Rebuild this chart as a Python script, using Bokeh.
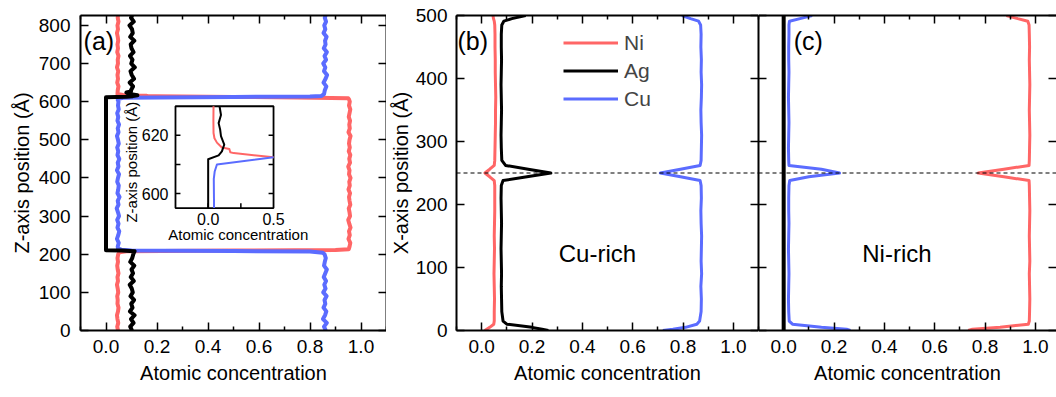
import math
from bokeh.plotting import figure
from bokeh.layouts import row
from bokeh.models import (Range1d, LinearAxis, FixedTicker, NumeralTickFormatter,
                          Span, Legend, LegendItem)
from bokeh.core.properties import value
from bokeh.embed import file_html
from bokeh.resources import INLINE

FONT = "Liberation Sans"
RED = "#FF6666"
BLUE = "#5B6CFF"
BLACK = "#000000"

# ---------------- (a) Z-axis profile through the whole cell ----------------
ni_a_z = (list(range(0, 201, 10)) + [205, 208, 209.5, 211, 213] + list(range(220, 601, 10))
          + [606, 609, 611, 612.5, 614, 614.3, 615.3, 615.8, 617.5, 620]
          + list(range(630, 821, 10)) + [826])
ni_a = ([0.047, 0.044, 0.048, 0.045, 0.043, 0.047, 0.049, 0.045, 0.046, 0.044, 0.048,
         0.046, 0.043, 0.047, 0.045, 0.049, 0.046, 0.044, 0.047, 0.045, 0.048]
        + [0.052, 0.08, 0.5, 0.9, 0.952]
        + [0.955, 0.958, 0.951, 0.956, 0.953, 0.959, 0.954, 0.950, 0.957, 0.955, 0.952,
           0.958, 0.955, 0.953, 0.957, 0.951, 0.956, 0.954, 0.959, 0.953, 0.955, 0.950,
           0.957, 0.954, 0.958, 0.952, 0.956, 0.953, 0.955, 0.959, 0.951, 0.956, 0.954,
           0.957, 0.952, 0.955, 0.958, 0.953, 0.956]
        + [0.953, 0.95, 0.75, 0.5, 0.195, 0.165, 0.16, 0.105, 0.067, 0.045]
        + [0.046, 0.049, 0.044, 0.047, 0.045, 0.048, 0.043, 0.047, 0.046, 0.049, 0.044,
           0.047, 0.045, 0.048, 0.046, 0.043, 0.047, 0.045, 0.049, 0.046, 0.047])

ag_a_z = (list(range(0, 201, 10))
          + [205, 208, 210, 210.5, 300, 400, 500, 611.8, 613.1, 614.5, 616.8, 619.7, 621.9, 624.2, 627]
          + list(range(630, 821, 10)) + [826])
ag_a = ([0.102, 0.095, 0.108, 0.098, 0.112, 0.094, 0.104, 0.099, 0.110, 0.096, 0.105,
         0.101, 0.093, 0.109, 0.097, 0.106, 0.100, 0.111, 0.095, 0.103, 0.107]
        + [0.11, 0.112, 0.06, 0.0, 0.0, 0.0, 0.0, 0.0, 0.08, 0.105, 0.123, 0.098, 0.092, 0.08, 0.098]
        + [0.098, 0.106, 0.093, 0.110, 0.101, 0.096, 0.113, 0.099, 0.104, 0.094, 0.108,
           0.100, 0.097, 0.111, 0.095, 0.105, 0.102, 0.092, 0.109, 0.098, 0.103])

cu_a_z = (list(range(0, 201, 10)) + [204, 207, 208.5, 210, 212, 215] + list(range(220, 601, 10))
          + [605, 607.6, 610, 612.5, 613.3, 615, 620]
          + list(range(630, 821, 10)) + [826])
cu_a = ([0.862, 0.855, 0.866, 0.851, 0.859, 0.864, 0.853, 0.860, 0.857, 0.865, 0.852,
         0.861, 0.856, 0.863, 0.854, 0.860, 0.866, 0.855, 0.858, 0.862, 0.857]
        + [0.85, 0.8, 0.5, 0.1, 0.06, 0.047]
        + [0.046, 0.050, 0.043, 0.048, 0.052, 0.045, 0.049, 0.044, 0.051, 0.047, 0.042,
           0.049, 0.046, 0.053, 0.045, 0.048, 0.050, 0.044, 0.047, 0.051, 0.043, 0.049,
           0.046, 0.052, 0.045, 0.048, 0.044, 0.050, 0.047, 0.043, 0.049, 0.046, 0.051,
           0.045, 0.048, 0.044, 0.050, 0.047, 0.049]
        + [0.046, 0.05, 0.067, 0.5, 0.8, 0.845, 0.855]
        + [0.858, 0.864, 0.853, 0.861, 0.867, 0.855, 0.860, 0.852, 0.863, 0.857, 0.866,
           0.854, 0.861, 0.859, 0.865, 0.853, 0.860, 0.856, 0.863, 0.858, 0.861])

# inset: close-up of the upper interface
ni_in_z = [630, 625, 620.8, 619, 617.5, 615.8, 615.3, 614.2, 613.9, 612.5]
ni_in = [0.041, 0.040, 0.041, 0.048, 0.067, 0.105, 0.162, 0.169, 0.195, 0.5]
ag_in_z = [595, 611.8, 613.1, 614.5, 616.8, 619.7, 621.9, 624.2, 627, 630]
ag_in = [0.0, 0.0, 0.08, 0.105, 0.123, 0.098, 0.092, 0.08, 0.098, 0.087]
cu_in_z = [595, 600, 605, 607.6, 610, 612.5]
cu_in = [0.045, 0.044, 0.043, 0.05, 0.067, 0.5]

# ---------------- (b) Cu-rich and (c) Ni-rich X-axis profiles ----------------
z_bc = [0, 2, 5, 10, 15, 30, 50, 70, 90, 110, 130, 150, 170, 190, 210, 230,
        238, 244, 250, 256, 262, 270, 290, 310, 330, 350, 370, 390, 410, 430, 450, 470,
        485, 491, 495, 500]
ni_b = [0.012, 0.02, 0.032, 0.048, 0.05,
        0.05, 0.051, 0.05, 0.049, 0.05, 0.051, 0.05, 0.051, 0.052, 0.052, 0.052,
        0.05, 0.032, 0.013, 0.032, 0.05,
        0.052, 0.053, 0.054, 0.055, 0.055, 0.056, 0.055, 0.054, 0.054, 0.053, 0.053,
        0.052, 0.05, 0.047, 0.045]
ag_b = [0.265, 0.24, 0.2, 0.1, 0.085,
        0.08, 0.079, 0.078, 0.079, 0.078, 0.077, 0.078, 0.079, 0.078, 0.077, 0.078,
        0.085, 0.18, 0.275, 0.185, 0.095,
        0.08, 0.078, 0.077, 0.078, 0.079, 0.078, 0.077, 0.078, 0.079, 0.078, 0.078,
        0.08, 0.088, 0.12, 0.175]
cu_b = [0.72, 0.76, 0.81, 0.855, 0.866,
        0.872, 0.873, 0.871, 0.874, 0.872, 0.873, 0.874, 0.872, 0.871, 0.873, 0.872,
        0.868, 0.79, 0.71, 0.79, 0.868,
        0.872, 0.873, 0.874, 0.872, 0.871, 0.873, 0.874, 0.872, 0.873, 0.871, 0.872,
        0.87, 0.862, 0.83, 0.796]
ni_c = [0.733, 0.75, 0.86, 0.972, 0.976,
        0.977, 0.978, 0.977, 0.976, 0.978, 0.977, 0.976, 0.977, 0.978, 0.977, 0.976,
        0.975, 0.875, 0.773, 0.875, 0.975,
        0.976, 0.977, 0.978, 0.977, 0.976, 0.977, 0.978, 0.977, 0.976, 0.977, 0.976,
        0.975, 0.97, 0.93, 0.885]
cu_c = [0.265, 0.25, 0.15, 0.035, 0.022,
        0.02, 0.019, 0.02, 0.021, 0.02, 0.019, 0.02, 0.021, 0.02, 0.02, 0.021,
        0.024, 0.1, 0.222, 0.15, 0.021,
        0.02, 0.019, 0.02, 0.021, 0.02, 0.019, 0.02, 0.021, 0.02, 0.02, 0.021,
        0.021, 0.023, 0.065, 0.113]
ag_c_z = [0, 500]
ag_c = [0.0, 0.0]

conc_ticks = [0.0, 0.2, 0.4, 0.6, 0.8, 1.0]
conc_minor = [-0.1, 0.1, 0.3, 0.5, 0.7, 0.9, 1.1]
z_ticks_a = [0, 100, 200, 300, 400, 500, 600, 700, 800]
x_ticks_bc = [0, 100, 200, 300, 400, 500]


def style_axis(ax, labeled, tick_size="19px"):
    ax.axis_line_width = 2
    ax.axis_line_color = BLACK
    ax.major_tick_in = 8
    ax.major_tick_out = 0
    ax.minor_tick_in = 4
    ax.minor_tick_out = 0
    ax.major_tick_line_width = 1.5
    ax.minor_tick_line_width = 1.5
    ax.major_tick_line_color = BLACK
    ax.minor_tick_line_color = BLACK
    ax.major_label_text_font = FONT
    ax.major_label_text_color = BLACK
    ax.axis_label_text_font = FONT
    ax.axis_label_text_font_style = "normal"
    ax.axis_label_text_font_size = "20px"
    ax.axis_label_text_color = BLACK
    if labeled:
        ax.major_label_text_font_size = tick_size
    else:
        ax.major_label_text_font_size = "0px"
        ax.major_label_text_alpha = 0
        ax.major_label_standoff = 0


def panel(width, x_rng, y_rng, borders, yticks, ylabel, y_labeled, label_stand):
    left, right, top, bottom = borders
    p = figure(width=width, height=397, x_range=Range1d(*x_rng), y_range=Range1d(*y_rng),
               output_backend="svg", toolbar_location=None,
               x_axis_location=None, y_axis_location=None,
               min_border_left=left, min_border_right=right,
               min_border_top=top, min_border_bottom=bottom)
    p.outline_line_color = None
    p.grid.grid_line_color = None
    p.background_fill_color = "white"
    p.border_fill_color = "white"

    xb = LinearAxis(ticker=FixedTicker(ticks=conc_ticks, minor_ticks=conc_minor),
                    formatter=NumeralTickFormatter(format="0.0"),
                    axis_label="Atomic concentration")
    style_axis(xb, True)
    xb.major_label_standoff = 9
    xb.axis_label_standoff = 6
    p.add_layout(xb, "below")

    xt = LinearAxis(ticker=FixedTicker(ticks=conc_ticks, minor_ticks=conc_minor))
    style_axis(xt, False)
    p.add_layout(xt, "above")

    yl = LinearAxis(ticker=FixedTicker(ticks=yticks, minor_ticks=[]),
                    axis_label=ylabel)
    style_axis(yl, y_labeled)
    if y_labeled:
        yl.major_label_standoff = label_stand[0]
        yl.axis_label_standoff = label_stand[1]
    p.add_layout(yl, "left")

    yr = LinearAxis(ticker=FixedTicker(ticks=yticks, minor_ticks=[]))
    style_axis(yr, False)
    p.add_layout(yr, "right")
    return p, yr


def label(p, x, y, txt, size, align="left", angle=0.0, **kw):
    p.text(x=[x], y=[y], text=[txt], text_font=value(FONT), text_font_size=value(size),
           text_align=align, text_baseline="middle", text_color=BLACK, angle=angle, **kw)


# ---------------- panel (a) ----------------
A_X = (-0.1, 1.1)
A_Y = (0, 826)
pa, _ = panel(386, A_X, A_Y, (80, 0, 14, 64), z_ticks_a, "Z-axis position (Å)", True, (10, 3))

for zz, xx, col in ((ni_a_z, ni_a, RED), (cu_a_z, cu_a, BLUE), (ag_a_z, ag_a, BLACK)):
    pa.line(xx, zz, line_color=col, line_width=4, line_join="round")

label(pa, -0.088, 758, "(a)", "25px")

# inset placed inside panel (a); its own ranges are mapped onto the main frame
INSET_X = (-0.25, 0.5)
INSET_Y = (595, 630)
BOX_X = (0.2725, 0.657)
BOX_Y = (321.0, 588.0)


def stretch(main, box, inner):
    k = (inner[1] - inner[0]) / (box[1] - box[0])
    return Range1d(inner[0] + (main[0] - box[0]) * k, inner[0] + (main[1] - box[0]) * k)


pa.extra_x_ranges = {"ix": stretch(A_X, BOX_X, INSET_X)}
pa.extra_y_ranges = {"iy": stretch(A_Y, BOX_Y, INSET_Y)}
IN = dict(x_range_name="ix", y_range_name="iy")

pa.quad(left=[INSET_X[0]], right=[INSET_X[1]], bottom=[INSET_Y[0]], top=[INSET_Y[1]],
        fill_color="white", line_color=BLACK, line_width=1.8, **IN)
for zz, xx, col in ((ni_in_z, ni_in, RED), (cu_in_z, cu_in, BLUE), (ag_in_z, ag_in, BLACK)):
    pa.line(xx, zz, line_color=col, line_width=2, line_join="round", **IN)

in_yticks = [600, 610, 620]
in_xticks = [0.0, 0.25]
tx = 0.038   # tick length in inset concentration units
ty = 1.7     # tick length in inset Å
pa.segment(x0=[INSET_X[0]] * 3, x1=[INSET_X[0] + tx] * 3, y0=in_yticks, y1=in_yticks,
           line_color=BLACK, line_width=1.5, **IN)
pa.segment(x0=[INSET_X[1]] * 3, x1=[INSET_X[1] - tx] * 3, y0=in_yticks, y1=in_yticks,
           line_color=BLACK, line_width=1.5, **IN)
pa.segment(x0=in_xticks, x1=in_xticks, y0=[INSET_Y[0]] * 2, y1=[INSET_Y[0] + ty] * 2,
           line_color=BLACK, line_width=1.5, **IN)
pa.text(x=[INSET_X[0], INSET_X[0]], y=[600, 620], text=["600", "620"], x_offset=-7,
        text_font=value(FONT), text_font_size=value("16px"), text_align="right",
        text_baseline="middle", text_color=BLACK, **IN)
pa.text(x=[0.0, 0.5], y=[INSET_Y[0], INSET_Y[0]], text=["0.0", "0.5"], y_offset=11,
        text_font=value(FONT), text_font_size=value("16px"), text_align="center",
        text_baseline="middle", text_color=BLACK, **IN)
label(pa, 0.23, 586, "Atomic concentration", "15px", align="center", **IN)
label(pa, -0.585, 610.8, "Z-axis position (Å)", "15px", align="center", angle=math.pi / 2, **IN)

# ---------------- panel (b) ----------------
BC_Y = (0, 500)
pb, _ = panel(372, (-0.1, 1.1), BC_Y, (70, 0, 15, 67), x_ticks_bc, "X-axis position (Å)", True, (9, 1))
rb_ni = pb.line(ni_b, z_bc, line_color=RED, line_width=3, line_join="round")
rb_ag = pb.line(ag_b, z_bc, line_color=BLACK, line_width=3, line_join="round")
rb_cu = pb.line(cu_b, z_bc, line_color=BLUE, line_width=3, line_join="round")
pb.add_layout(Span(location=250, dimension="width", line_dash="4 3", line_width=1.2, line_color=BLACK))
label(pb, -0.096, 459, "(b)", "25px")
label(pb, 0.46, 122, "Cu-rich", "24px", align="center")

legend = Legend(items=[LegendItem(label="Ni", renderers=[rb_ni]),
                       LegendItem(label="Ag", renderers=[rb_ag]),
                       LegendItem(label="Cu", renderers=[rb_cu])],
                location=(107, 219), label_text_font=FONT, label_text_font_size="21px",
                glyph_width=55, glyph_height=25, label_height=25, label_standoff=6,
                spacing=3, padding=0, margin=0, border_line_color=None,
                background_fill_alpha=0)
pb.add_layout(legend)

# ---------------- panel (c) ----------------
pc, yr_c = panel(298, (-0.1, 1.084), BC_Y, (0, 0, 15, 67), x_ticks_bc, None, False, None)
yr_c.axis_line_alpha = 0
pc.line(ni_c, z_bc, line_color=RED, line_width=3, line_join="round")
pc.line(cu_c, z_bc, line_color=BLUE, line_width=3, line_join="round")
pc.line(ag_c, ag_c_z, line_color=BLACK, line_width=4)
pc.add_layout(Span(location=250, dimension="width", line_dash="4 3", line_width=1.2, line_color=BLACK))
label(pc, 0.04, 459, "(c)", "25px")
label(pc, 0.45, 122, "Ni-rich", "24px", align="center")

layout = row(pa, pb, pc)
open("out.html", "w").write(file_html(layout, INLINE))
